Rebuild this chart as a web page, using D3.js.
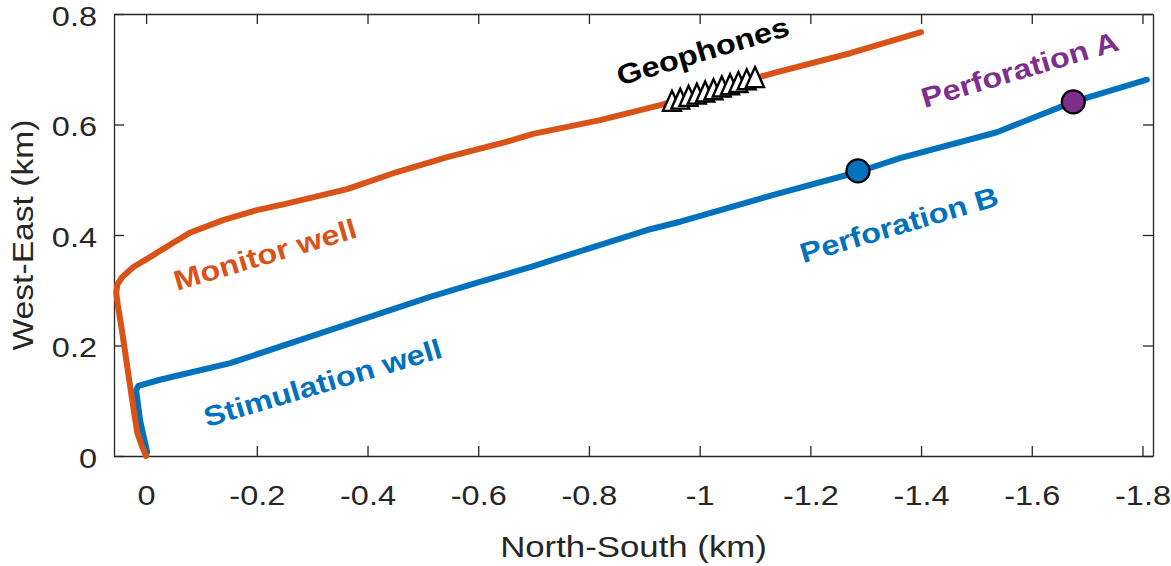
<!DOCTYPE html>
<html><head><meta charset="utf-8">
<script src="https://cdn.jsdelivr.net/npm/d3@7"></script>
<style>body{margin:0;background:#fff}svg{display:block}</style>
</head><body><svg id="c" width="1171" height="566"></svg>
<script>
// ---- data (km) ----
const monitorNS = [0, 0.009, 0.016, 0.025, 0.034, 0.043, 0.051, 0.054, 0.052, 0.043, 0.023, -0.007, -0.049, -0.079, -0.139, -0.200, -0.250, -0.363, -0.453, -0.544, -0.663, -0.699, -0.820, -0.929, -1.037, -1.133, -1.272, -1.400];
const monitorWE = [0, 0.022, 0.042, 0.101, 0.161, 0.223, 0.273, 0.295, 0.310, 0.324, 0.342, 0.360, 0.386, 0.404, 0.427, 0.445, 0.456, 0.483, 0.514, 0.541, 0.572, 0.583, 0.608, 0.635, 0.666, 0.693, 0.729, 0.767];
const stimNS = [-0.002, 0.011, 0.018, 0.014, -0.025, -0.152, -0.332, -0.513, -0.603, -0.694, -0.905, -0.965, -1.145, -1.286, -1.362, -1.537, -1.675, -1.808];
const stimWE = [0.007, 0.065, 0.119, 0.127, 0.138, 0.168, 0.228, 0.288, 0.315, 0.342, 0.409, 0.424, 0.476, 0.514, 0.539, 0.586, 0.641, 0.681];
const perfNames = ["Perforation B", "Perforation A"];
const perfNS = [-1.286, -1.675];
const perfWE = [0.516, 0.641];
const geoNS = [-0.950, -0.965, -0.980, -0.995, -1.010, -1.025, -1.040, -1.055, -1.070, -1.085, -1.100];
const geoWE = [0.641, 0.645, 0.650, 0.654, 0.658, 0.662, 0.667, 0.671, 0.675, 0.680, 0.684];
const xTicks = [0, -0.2, -0.4, -0.6, -0.8, -1, -1.2, -1.4, -1.6, -1.8];
const yTicks = [0, 0.2, 0.4, 0.6, 0.8];
const labelText = ["Monitor well", "Stimulation well", "Perforation B", "Perforation A", "Geophones"];
const labelNS = [-0.056, -0.110, -1.187, -1.406, -0.856];
const labelWE = [0.299, 0.052, 0.349, 0.630, 0.670];
const xLimits = [0.058, -1.819];
const yLimits = [0, 0.8];

// ---- styles ----
const ORANGE = "#D95319", BLUE = "#0072BD", PURPLE = "#7E2F8E", AX = "#262626";
const labelColor = [ORANGE, BLUE, BLUE, PURPLE, "#000000"];
const FONT = "'Liberation Sans', Arial, Helvetica, sans-serif";
const SX = 1.16;

const svg = d3.select("#c");
const L = 114, R = 1153, T = 14, B = 456;
const x = d3.scaleLinear().domain(xLimits).range([L, R]);
const y = d3.scaleLinear().domain(yLimits).range([B, T]);

const fmt = d => d3.format("")(d).replace("−", "-");

// bottom axis
const gb = svg.append("g").attr("transform", `translate(0,${B})`)
  .call(d3.axisBottom(x).tickValues(xTicks).tickSizeInner(-10).tickSizeOuter(0).tickPadding(29).tickFormat(fmt));
// top axis
const gt = svg.append("g").attr("transform", `translate(0,${T})`)
  .call(d3.axisTop(x).tickValues(xTicks).tickSizeInner(-10).tickSizeOuter(0).tickFormat(""));
// left axis
const gl = svg.append("g").attr("transform", `translate(${L},0)`)
  .call(d3.axisLeft(y).tickValues(yTicks).tickSizeInner(-10).tickSizeOuter(0).tickPadding(17).tickFormat(fmt));
// right axis
const gr = svg.append("g").attr("transform", `translate(${R},0)`)
  .call(d3.axisRight(y).tickValues(yTicks).tickSizeInner(-10).tickSizeOuter(0).tickFormat(""));

[gb, gt, gl, gr].forEach(g => {
  g.select(".domain").attr("stroke", AX).attr("stroke-width", 1.3);
  g.selectAll(".tick line").attr("stroke", AX).attr("stroke-width", 1.3);
  g.selectAll(".tick text").attr("fill", AX).style("font-family", FONT).style("font-size", "28px");
});
gb.selectAll(".tick text").attr("transform", `scale(${SX},1)`);
gl.selectAll(".tick text").attr("x", -17 / SX).attr("dy", "0.40em").attr("transform", `scale(${SX},1)`);

// axis titles
svg.append("text").attr("transform", `translate(${(L + R) / 2},557) scale(${SX},1)`)
  .attr("text-anchor", "middle").attr("fill", AX).style("font-family", FONT).style("font-size", "30px")
  .text("North-South (km)");
svg.append("text").attr("transform", `translate(33,${(T + B) / 2}) rotate(-90) scale(${SX},1)`)
  .attr("text-anchor", "middle").attr("fill", AX).style("font-family", FONT).style("font-size", "29px")
  .text("West-East (km)");

// wells
const line = d3.line().x(d => x(d[0])).y(d => y(d[1]));
svg.append("path").datum(stimNS.map((v, i) => [v, stimWE[i]]))
  .attr("d", line).attr("fill", "none").attr("stroke", BLUE).attr("stroke-width", 6)
  .attr("stroke-linejoin", "round").attr("stroke-linecap", "round");
svg.append("path").datum(monitorNS.map((v, i) => [v, monitorWE[i]]))
  .attr("d", line).attr("fill", "none").attr("stroke", ORANGE).attr("stroke-width", 6)
  .attr("stroke-linejoin", "round").attr("stroke-linecap", "round");

// geophones (triangles)
const tri = "M0,-11 L9,9 L-9,9 Z";
svg.append("g").selectAll("path").data(geoNS.map((v, i) => [v, geoWE[i]])).join("path")
  .attr("d", tri).attr("transform", d => `translate(${x(d[0])},${y(d[1])})`)
  .attr("fill", "#fff").attr("stroke", "#000").attr("stroke-width", 2.4).attr("stroke-linejoin", "miter");

// perforations
svg.append("g").selectAll("circle").data(perfNS.map((v, i) => [v, perfWE[i], i])).join("circle")
  .attr("cx", d => x(d[0])).attr("cy", d => y(d[1])).attr("r", 11.5)
  .attr("fill", d => d[2] === 0 ? BLUE : PURPLE).attr("stroke", "#000").attr("stroke-width", 2.2);

// annotations
svg.append("g").selectAll("text").data(labelText.map((t, i) => [t, labelNS[i], labelWE[i], labelColor[i]])).join("text")
  .attr("transform", d => `translate(${x(d[1])},${y(d[2])}) rotate(-16.5) scale(${SX},1)`)
  .attr("fill", d => d[3]).style("font-family", FONT).style("font-weight", "bold").style("font-size", "28px")
  .text(d => d[0]);
</script>
</body></html>
